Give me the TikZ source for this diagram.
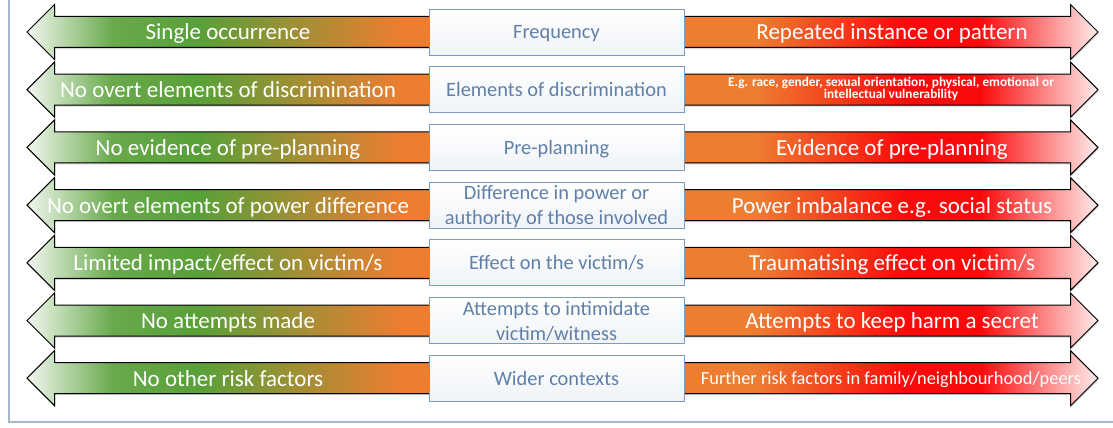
\documentclass[tikz,border=0pt]{standalone}
\usepackage{fontspec}
\setmainfont{Carlito}
\usetikzlibrary{shapes.arrows,shadows}
\definecolor{okgreen}{RGB}{88,160,56}
\definecolor{warnorange}{RGB}{237,125,49}
\definecolor{harmred}{RGB}{250,10,10}
\definecolor{boxblue}{RGB}{96,128,170}
\definecolor{boxline}{RGB}{125,155,190}
\definecolor{framegray}{RGB}{165,185,205}
\pgfdeclarehorizontalshading{riskscale}{100bp}{color(0bp)=(okgreen!8); color(25bp)=(okgreen!8);
  color(29bp)=(okgreen!90); color(33bp)=(okgreen); color(42.5bp)=(warnorange);
  color(59bp)=(warnorange); color(66bp)=(harmred); color(69.5bp)=(harmred);
  color(75bp)=(harmred!8); color(100bp)=(harmred!8)}
\begin{document}
\begin{tikzpicture}[x=1pt, y=-1pt,
  scalearrow/.style = {shape=double arrow, draw=black, line width=1pt,
    shading=riskscale, inner xsep=0pt, inner ysep=15pt,
    minimum height=1071pt, double arrow head extend=12pt,
    drop shadow={opacity=0.35, shadow xshift=0.8pt, shadow yshift=-1.5pt}},
  crit/.style = {rectangle, draw=boxline, line width=0.8pt,
    top color=white, bottom color=boxline!12,
    minimum width=255pt, minimum height=46pt, inner sep=0pt, text depth=0pt,
    align=center, text=boxblue, font=\fontsize{20.4}{25}\selectfont},
  low/.style = {text=white, inner sep=0pt, text depth=0pt, font=\fontsize{23}{24}\selectfont},
  high/.style = {text=white, inner sep=0pt, text depth=0pt, align=center, font=\fontsize{23}{24}\selectfont}]
  \useasboundingbox (0,0) rectangle (1113,428);
  % frame
  \draw[framegray, line width=1.2pt] (9,0) -- (9,422) -- (1113,422);
  % scales
  \node[scalearrow] (scale1) at (562.5,32) {};
  \node[scalearrow] (scale2) at (562.5,89.7) {};
  \node[scalearrow] (scale3) at (562.5,147.4) {};
  \node[scalearrow] (scale4) at (562.5,205.1) {};
  \node[scalearrow] (scale5) at (562.5,262.8) {};
  \node[scalearrow] (scale6) at (562.5,320.5) {};
  \node[scalearrow] (scale7) at (562.5,378.2) {};
  % criteria
  \node[crit] (crit1) at (556.5,32) {Frequency};
  \node[crit] (crit2) at (556.5,89.7) {Elements of discrimination};
  \node[crit] (crit3) at (556.5,147.4) {Pre-planning};
  \node[crit] (crit4) at (556.5,205.1) {Difference in power or\\authority of those involved};
  \node[crit] (crit5) at (556.5,262.8) {Effect on the victim/s};
  \node[crit] (crit6) at (556.5,320.5) {Attempts to intimidate\\victim/witness};
  \node[crit] (crit7) at (556.5,378.2) {Wider contexts};
  % low end
  \node[low] (low1) at (228,32) {Single occurrence};
  \node[low] (low2) at (228,89.7) {No overt elements of discrimination};
  \node[low] (low3) at (228,147.4) {No evidence of pre-planning};
  \node[low] (low4) at (228,205.1) {No overt elements of power difference};
  \node[low] (low5) at (228,262.8) {Limited impact/effect on victim/s};
  \node[low] (low6) at (228,320.5) {No attempts made};
  \node[low] (low7) at (228,378.2) {No other risk factors};
  % high end
  \node[high] (high1) at (892,32) {Repeated instance or pattern};
  \node[high, font=\bfseries\fontsize{13.3}{10}\selectfont] (high2) at (891,88) {E.g. race, gender, sexual orientation, physical, emotional or\\intellectual vulnerability};
  \node[high] (high3) at (892,147.4) {Evidence of pre-planning};
  \node[high] (high4) at (892,205.1) {Power imbalance e.g. social status};
  \node[high] (high5) at (892,262.8) {Traumatising effect on victim/s};
  \node[high] (high6) at (892,320.5) {Attempts to keep harm a secret};
  \node[high, font=\fontsize{18.4}{20}\selectfont] (high7) at (891,378.2) {Further risk factors in family/neighbourhood/peers};
\end{tikzpicture}
\end{document}
